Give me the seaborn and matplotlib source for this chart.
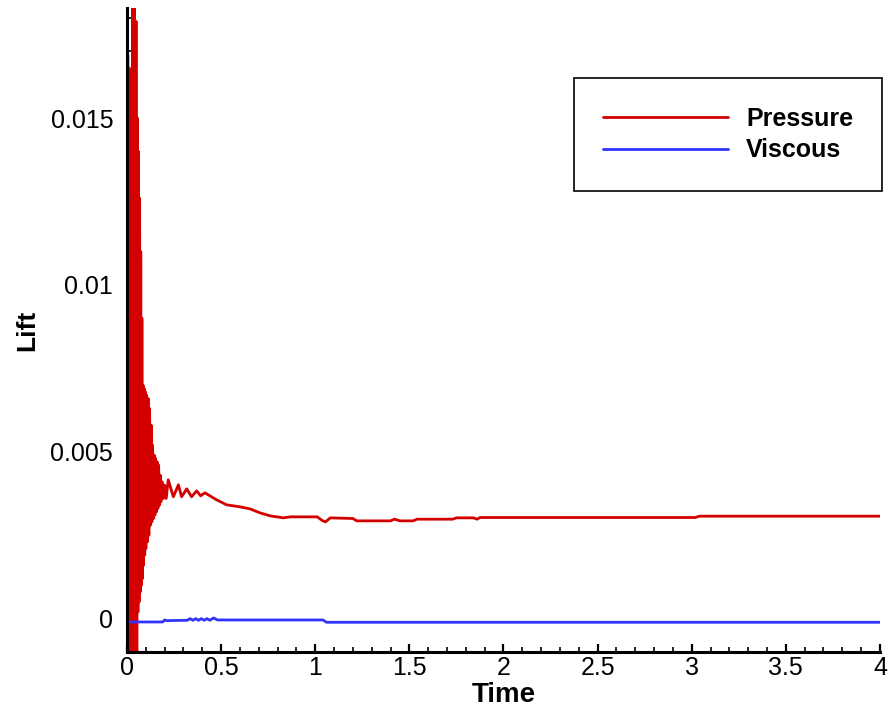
import numpy as np
import pandas as pd
import seaborn as sns
import matplotlib
matplotlib.use("Agg")
from matplotlib import pyplot as plt
from matplotlib.ticker import MultipleLocator, FuncFormatter

# Pressure lift
pressure_time = [
    0.000, 0.004, 0.008, 0.012, 0.016, 0.026, 0.031, 0.036, 0.040, 0.044,
    0.048, 0.052, 0.055, 0.058, 0.061, 0.064, 0.067, 0.070, 0.073, 0.076,
    0.079, 0.082, 0.085, 0.088, 0.091, 0.094, 0.097, 0.100, 0.104, 0.108,
    0.112, 0.116, 0.120, 0.124, 0.128, 0.132, 0.136, 0.140, 0.144, 0.148,
    0.152, 0.156, 0.160, 0.164, 0.168, 0.172, 0.176, 0.180, 0.186, 0.192,
    0.200, 0.208, 0.219, 0.246, 0.273, 0.290, 0.317, 0.343, 0.370, 0.391,
    0.414, 0.440, 0.476, 0.529, 0.600, 0.653, 0.706, 0.760, 0.830, 0.870,
    1.010, 1.040, 1.055, 1.080, 1.200, 1.220, 1.400, 1.420, 1.450, 1.520,
    1.540, 1.730, 1.750, 1.840, 1.860, 1.875, 3.020, 3.040, 4.000,
]
pressure_lift = [
    0.0000, 0.0169, -0.0030, 0.0165, -0.0025, -0.0030, 0.0190, -0.0020, 0.0185, -0.0015,
    0.0179, -0.0012, 0.0150, 0.0002, 0.0140, 0.0005, 0.0126, 0.0008, 0.0110, 0.0010,
    0.0090, 0.0012, 0.0070, 0.0016, 0.0069, 0.0019, 0.0068, 0.0021, 0.0067, 0.0023,
    0.0066, 0.0025, 0.0063, 0.0028, 0.0058, 0.0029, 0.0052, 0.0030, 0.0049, 0.0031,
    0.0048, 0.0032, 0.0047, 0.0033, 0.0046, 0.0034, 0.0043, 0.0035, 0.0041, 0.0036,
    0.0040, 0.0036, 0.00416, 0.00365, 0.00401, 0.00365, 0.00389, 0.00365, 0.00383, 0.00368,
    0.00377, 0.00368, 0.00356, 0.00341, 0.00335, 0.00329, 0.00317, 0.00308, 0.00302, 0.00305,
    0.00305, 0.00293, 0.00290, 0.00302, 0.00300, 0.00293, 0.00293, 0.00298, 0.00293, 0.00293,
    0.00298, 0.00298, 0.00302, 0.00302, 0.00298, 0.00303, 0.00303, 0.00307, 0.00307,
]

# Viscous lift
viscous_time = [
    0.000, 0.003, 0.006, 0.010, 0.190, 0.200, 0.210, 0.320, 0.335, 0.350,
    0.365, 0.380, 0.395, 0.410, 0.425, 0.440, 0.460, 0.480, 1.040, 1.060, 4.000,
]
viscous_lift = [
    0.0, 0.0058, -0.0002, -0.0001, -0.0001, -0.00004, -0.00006, -0.00005, 0.0, -0.00005,
    0.0, -0.00005, 0.0, -0.00005, 0.0, -0.00005, 0.00002, -0.00004, -0.00004, -0.00011, -0.00011,
]

series_names = ["Pressure", "Viscous"]
series_colors = ["#d40000", "#3333ff"]

sns.set_style("ticks")
plt.rcParams['font.family'] = ['Liberation Sans', 'DejaVu Sans']

fig = plt.figure(figsize=(8.92, 7.19), dpi=100)
ax = fig.add_axes([0.1424, 0.0932, 0.8441, 0.8957])

sns.lineplot(x=pressure_time, y=pressure_lift, color=series_colors[0], linewidth=2,
             label=series_names[0], estimator=None, ax=ax)
sns.lineplot(x=viscous_time, y=viscous_lift, color=series_colors[1], linewidth=2,
             label=series_names[1], estimator=None, ax=ax)

ax.set_xlim(0, 4)
ax.set_ylim(-0.001, 0.0183)

ax.xaxis.set_major_locator(MultipleLocator(0.5))
ax.xaxis.set_minor_locator(MultipleLocator(0.1))
ax.yaxis.set_major_locator(MultipleLocator(0.005))
ax.yaxis.set_minor_locator(MultipleLocator(0.001))
fmt = FuncFormatter(lambda v, p: "%g" % round(v, 6))
ax.xaxis.set_major_formatter(fmt)
ax.yaxis.set_major_formatter(fmt)

ax.tick_params(which='both', direction='in', color='black', labelcolor='black',
               top=False, right=False)
ax.tick_params(which='major', length=6, width=1.6, labelsize=18)
ax.tick_params(axis='y', which='major', pad=10)
ax.tick_params(axis='x', which='major', pad=3)
ax.tick_params(which='minor', length=3.5, width=1.2)

sns.despine(ax=ax)
for side in ['left', 'bottom']:
    ax.spines[side].set_linewidth(2.2)
    ax.spines[side].set_color('black')

ax.set_xlabel("Time", fontsize=20, fontweight='bold', labelpad=1, color='black')
ax.set_ylabel("Lift", fontsize=19, fontweight='bold', labelpad=8, color='black')

leg = ax.legend(loc='upper right', bbox_to_anchor=(0.989, 0.8915),
                bbox_transform=fig.transFigure, borderaxespad=0,
                frameon=True, fancybox=False, edgecolor='black', framealpha=1,
                prop={'size': 18, 'weight': 'bold'}, handlelength=5.0,
                handletextpad=0.75, borderpad=1.15, labelspacing=0.3)
leg.get_frame().set_linewidth(1.2)
for txt in leg.get_texts():
    txt.set_color('black')

fig.savefig("out.png", dpi=100)
